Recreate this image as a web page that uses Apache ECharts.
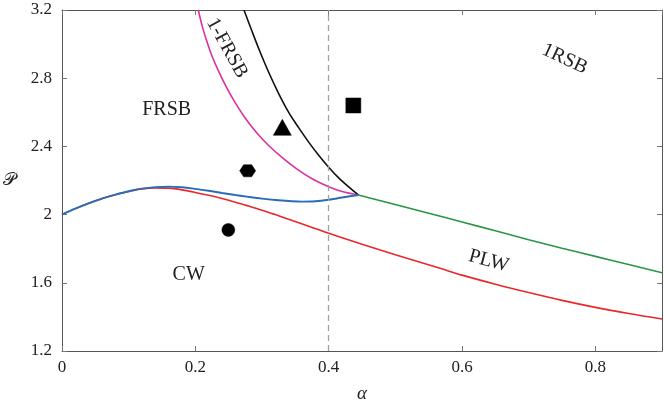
<!DOCTYPE html>
<html>
<head>
<meta charset="utf-8">
<script src="https://cdn.jsdelivr.net/npm/echarts@6/dist/echarts.min.js"></script>
<style>
  html, body { margin: 0; padding: 0; background: #fff; }
  #main { width: 664px; height: 401px; }
</style>
</head>
<body>
<div id="main"></div>
<script>
// axis ticks
var xTicks = [0, 0.2, 0.4, 0.6, 0.8];
var yTicks = [1.2, 1.6, 2, 2.4, 2.8, 3.2];

// blue line (CW / FRSB boundary)
var blueAlpha = [0, 0.02, 0.04, 0.06, 0.08, 0.10, 0.12, 0.14, 0.16, 0.18, 0.20, 0.22, 0.24, 0.26, 0.28, 0.30, 0.32, 0.34, 0.36, 0.38, 0.40, 0.42, 0.4445];
var blueP     = [2.000, 2.035, 2.066, 2.094, 2.117, 2.137, 2.152, 2.161, 2.164, 2.160, 2.151, 2.140, 2.127, 2.115, 2.104, 2.094, 2.086, 2.080, 2.076, 2.078, 2.087, 2.100, 2.115];

// red line (CW / PLW)
var redAlpha = [0, 0.02, 0.04, 0.06, 0.08, 0.10, 0.12, 0.14, 0.16, 0.18, 0.20, 0.22, 0.24, 0.26, 0.28, 0.30, 0.32, 0.34, 0.37, 0.40, 0.45, 0.50, 0.567, 0.60, 0.65, 0.70, 0.75, 0.80, 0.85, 0.90];
var redP     = [2.000, 2.035, 2.066, 2.094, 2.117, 2.136, 2.151, 2.157, 2.155, 2.145, 2.130, 2.113, 2.094, 2.073, 2.050, 2.026, 2.000, 1.973, 1.932, 1.890, 1.826, 1.765, 1.685, 1.645, 1.592, 1.543, 1.497, 1.456, 1.420, 1.388];

// green line (PLW / 1RSB)
var greenAlpha = [0.4445, 0.475, 0.507, 0.55, 0.60, 0.65, 0.70, 0.75, 0.80, 0.85, 0.90];
var greenP     = [2.115, 2.084, 2.052, 2.008, 1.957, 1.905, 1.853, 1.803, 1.755, 1.707, 1.659];

// magenta line (FRSB / 1-FRSB)
var magentaAlpha = [0.2045, 0.210, 0.217, 0.225, 0.235, 0.247, 0.260, 0.275, 0.292, 0.310, 0.330, 0.352, 0.375, 0.400, 0.420, 0.4445];
var magentaP     = [3.200, 3.110, 3.020, 2.930, 2.840, 2.745, 2.655, 2.565, 2.480, 2.405, 2.335, 2.268, 2.210, 2.163, 2.135, 2.115];

// black line (1-FRSB / 1RSB)
var blackAlpha = [0.273, 0.285, 0.297, 0.310, 0.325, 0.340, 0.355, 0.370, 0.385, 0.400, 0.415, 0.430, 0.4445];
var blackP     = [3.200, 3.075, 2.955, 2.835, 2.710, 2.600, 2.510, 2.425, 2.348, 2.278, 2.215, 2.162, 2.115];

// sample points
var circlePt   = [0.2495, 1.91];
var hexagonPt  = [0.2785, 2.257];
var trianglePt = [0.3305, 2.512];
var squarePt   = [0.437, 2.64];

// phase labels
var labelText  = ['FRSB', '1-FRSB', '1RSB', 'PLW', 'CW'];
var labelAlpha = [0.157, 0.2475, 0.754, 0.64, 0.19];
var labelP     = [2.613, 2.977, 2.913, 1.728, 1.646];
var labelAngle = [0, -61, -25, -15, 0];

var dashAt = 0.4;

function zip(xs, ys) {
  return xs.map(function (x, i) { return [x, ys[i]]; });
}

var serif = 'Liberation Serif';
var axisColor = '#555';

var chart = echarts.init(document.getElementById('main'));

function lineSeries(name, xs, ys, color, width) {
  return {
    name: name,
    type: 'line',
    data: zip(xs, ys),
    smooth: 0.35,
    showSymbol: false,
    symbol: 'none',
    lineStyle: { color: color, width: width },
    z: 3
  };
}

function markerSeries(pt, symbol, size) {
  return {
    type: 'scatter',
    data: [pt],
    symbol: symbol,
    symbolSize: size,
    symbolKeepAspect: true,
    itemStyle: { color: '#000', borderColor: '#000', borderWidth: 0.5, opacity: 1 },
    z: 4
  };
}

var hexPath = 'path://M0,5 L2.5,0.67 L7.5,0.67 L10,5 L7.5,9.33 L2.5,9.33 Z';

var option = {
  animation: false,
  backgroundColor: '#fff',
  // fixed plot box; don't let labels shrink it
  grid: { left: 62, right: 2, top: 10, bottom: 50, containLabel: false, outerBoundsMode: 'none' },
  xAxis: [{
    type: 'value', min: 0, max: 0.9, interval: 0.2,
    name: 'α', nameLocation: 'middle', nameGap: 33,
    nameTextStyle: { fontFamily: serif, fontStyle: 'italic', fontSize: 19, color: '#222' },
    axisLine: { onZero: false, lineStyle: { color: axisColor, width: 1 } },
    axisTick: { inside: true, length: 5, lineStyle: { color: '#777' } },
    axisLabel: { fontFamily: serif, fontSize: 17, color: '#222', margin: 8, showMaxLabel: false },
    splitLine: { show: false }
  }, {
    type: 'value', position: 'top', min: 0, max: 0.9, interval: 0.2,
    axisLine: { onZero: false, lineStyle: { color: axisColor, width: 1 } },
    axisTick: { inside: true, length: 5, lineStyle: { color: '#777' } },
    axisLabel: { show: false },
    splitLine: { show: false }
  }],
  yAxis: [{
    type: 'value', min: 1.2, max: 3.2, interval: 0.4,
    name: '𝒫', nameLocation: 'middle', nameGap: 46, nameRotate: 0,
    nameTextStyle: { fontFamily: 'DejaVu Serif', fontSize: 18, color: '#222' },
    axisLine: { onZero: false, lineStyle: { color: axisColor, width: 1 } },
    axisTick: { inside: true, length: 5, lineStyle: { color: '#777' } },
    axisLabel: { fontFamily: serif, fontSize: 17, color: '#222', margin: 10 },
    splitLine: { show: false }
  }, {
    type: 'value', position: 'right', min: 1.2, max: 3.2, interval: 0.4,
    axisLine: { onZero: false, lineStyle: { color: axisColor, width: 1 } },
    axisTick: { inside: true, length: 5, lineStyle: { color: '#777' } },
    axisLabel: { show: false },
    splitLine: { show: false }
  }],
  series: [
    lineSeries('red', redAlpha, redP, '#e8282b', 1.6),
    lineSeries('green', greenAlpha, greenP, '#2e9445', 1.6),
    lineSeries('magenta', magentaAlpha, magentaP, '#d9329f', 1.6),
    lineSeries('black', blackAlpha, blackP, '#111111', 1.6),
    lineSeries('blue', blueAlpha, blueP, '#2b6cb6', 1.9),
    {
      // dashed vertical guide at alpha = 0.4
      type: 'line',
      data: [],
      markLine: {
        silent: true,
        symbol: 'none',
        label: { show: false },
        lineStyle: { color: '#a0a0a0', type: [6, 4], width: 1.3 },
        data: [{ xAxis: dashAt }]
      },
      z: 2
    },
    markerSeries(circlePt, 'circle', 13),
    markerSeries(hexagonPt, hexPath, [16, 14]),
    markerSeries(trianglePt, 'triangle', [18, 16]),
    markerSeries(squarePt, 'rect', 15)
  ]
};

chart.setOption(option);

// phase labels, placed in data coordinates
var texts = labelText.map(function (t, i) {
  var p = chart.convertToPixel({ xAxisIndex: 0, yAxisIndex: 0 }, [labelAlpha[i], labelP[i]]);
  return {
    type: 'text',
    x: p[0], y: p[1],
    rotation: labelAngle[i] * Math.PI / 180,
    style: {
      text: t,
      fontFamily: serif,
      fontSize: 20,
      fill: '#222',
      textAlign: 'center',
      textVerticalAlign: 'middle'
    },
    z: 5
  };
});
chart.setOption({ graphic: texts });
</script>
</body>
</html>
